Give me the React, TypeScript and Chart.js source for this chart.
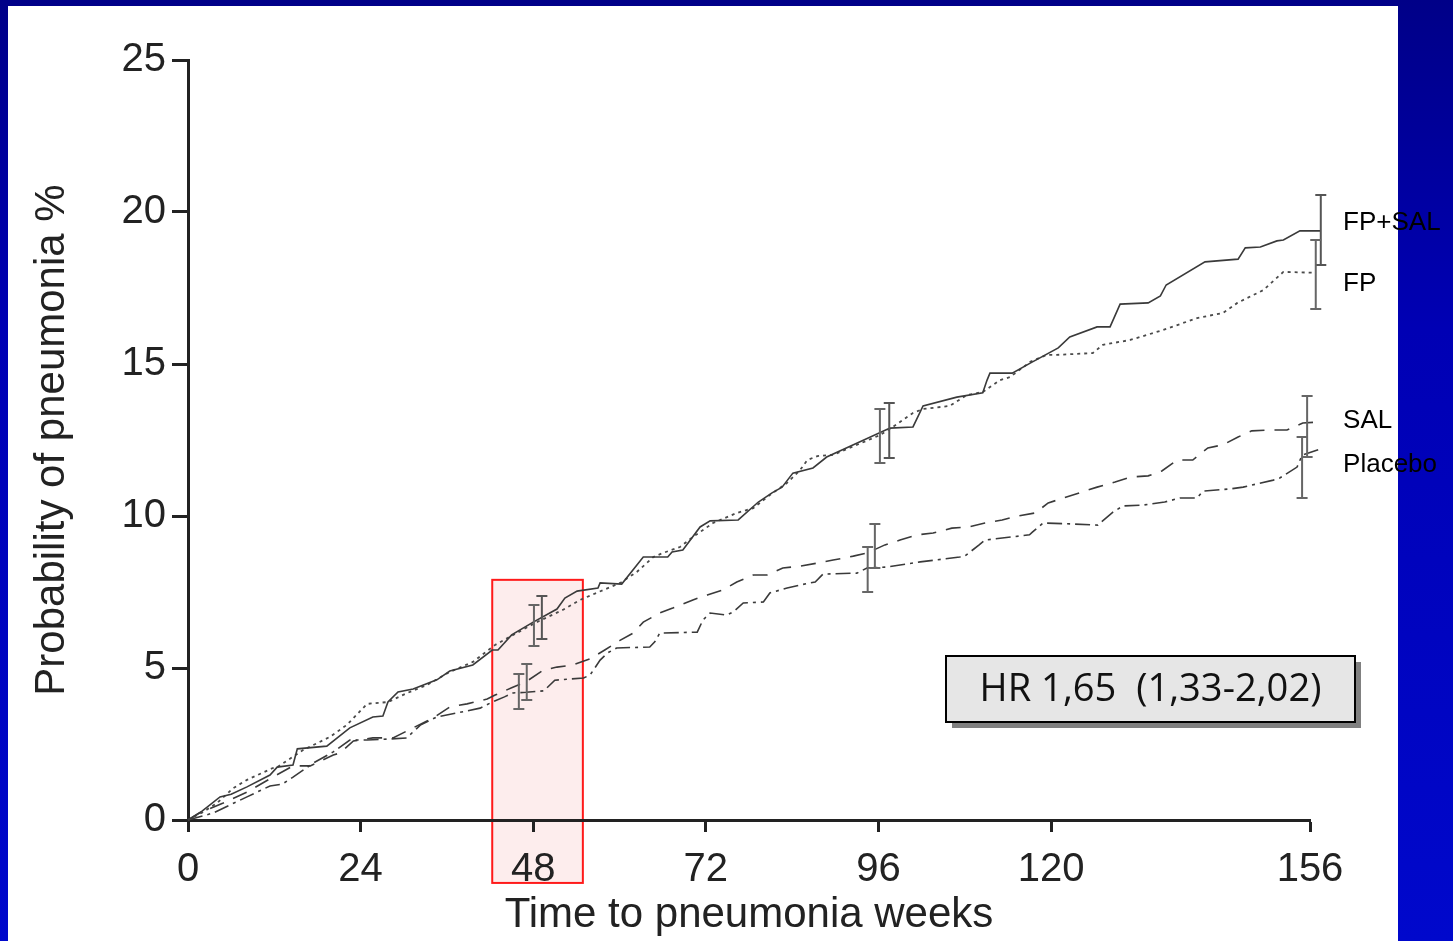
import React, { useEffect, useRef } from "react";
import { Chart, registerables } from "chart.js";

Chart.register(...registerables);

// ---------- data ----------
const xTickValues = [0, 24, 48, 72, 96, 120, 156];
const yTickStep = 5;

const seriesNames = ["FP+SAL", "FP", "SAL", "Placebo"];

const fpSalWeeks = [0, 2, 4.45, 6, 8.2, 11.4, 12.4, 14.6, 15.2, 19.3, 22.5, 25.7, 27.1, 27.8, 29.2, 31.3, 34.6, 36.4, 39.6, 42.3, 43.1, 45.0, 48.0, 51.3, 52.4, 54.1, 57.0, 57.3, 60.3, 63.3, 66.7, 67.3, 68.8, 71.2, 72.6, 76.5, 79.3, 81.2, 82.6, 84.1, 86.9, 88.8, 97.6, 100.8, 102.2, 106.9, 110.5, 111.1, 111.5, 114.6, 117.1, 121.0, 122.6, 126.4, 128.2, 129.6, 133.5, 135.2, 136.0, 141.4, 146.0, 147.0, 149.1, 151.4, 152.3, 154.6, 157.4];
const fpSalProb = [0, 0.3, 0.76, 0.85, 1.09, 1.48, 1.74, 1.81, 2.34, 2.43, 3.03, 3.39, 3.42, 3.88, 4.21, 4.31, 4.61, 4.9, 5.1, 5.59, 5.59, 6.09, 6.51, 6.94, 7.3, 7.53, 7.63, 7.8, 7.76, 8.65, 8.65, 8.82, 8.88, 9.64, 9.84, 9.87, 10.46, 10.76, 10.95, 11.41, 11.58, 11.94, 12.89, 12.93, 13.62, 13.91, 14.05, 14.47, 14.7, 14.7, 15.03, 15.53, 15.89, 16.22, 16.22, 16.97, 17.01, 17.24, 17.6, 18.36, 18.45, 18.82, 18.85, 19.05, 19.08, 19.38, 19.38];

const fpWeeks = [0, 2, 4, 6.3, 8.2, 11.8, 12.4, 16.0, 19.7, 22.1, 24.9, 27.8, 30.5, 33.2, 36.4, 39.6, 42.7, 45.7, 48.5, 52.1, 54.5, 60.1, 62.4, 64.7, 66.0, 68.4, 70.2, 73.0, 76.3, 78.6, 80.9, 83.3, 85.1, 86.1, 87.5, 89.7, 96.2, 98.0, 100.8, 102.2, 105.9, 108.3, 110.5, 112.9, 114.3, 117.1, 119.4, 120.8, 125.8, 127.2, 131.0, 135.6, 140.3, 143.9, 145.9, 149.5, 152.3, 156.8];
const fpProb = [0, 0.25, 0.55, 1.05, 1.32, 1.71, 1.74, 2.3, 2.73, 3.13, 3.82, 3.88, 4.18, 4.44, 4.87, 5.2, 5.76, 6.15, 6.51, 6.91, 7.24, 7.8, 8.16, 8.65, 8.78, 8.98, 9.31, 9.77, 10.1, 10.26, 10.69, 11.09, 11.51, 11.84, 11.97, 12.01, 12.66, 12.93, 13.39, 13.52, 13.62, 13.98, 14.08, 14.47, 14.57, 15.07, 15.3, 15.3, 15.36, 15.63, 15.79, 16.12, 16.51, 16.68, 17.01, 17.43, 18.03, 18.0];

const salWeeks = [0, 1.6, 4.9, 8.2, 11.8, 14.6, 17, 20.2, 21.1, 23, 25.7, 28.5, 31.3, 34.1, 36.4, 38.8, 41.6, 42.7, 45, 47, 49.4, 51.3, 53.5, 55.9, 58, 60, 61.9, 63.3, 65.6, 67.4, 70.2, 72.2, 74.4, 76.3, 78.6, 80.5, 82.7, 85.1, 87.5, 89.7, 92.5, 94.4, 96.9, 99, 101.4, 103.6, 106.2, 108.5, 110.8, 113.2, 115.4, 117.8, 119.6, 121.7, 124.3, 126.4, 128.9, 131, 133.5, 135.4, 137.5, 139.7, 141.8, 143.9, 146, 147.9, 150.4, 152.8, 155, 157.1];
const salProb = [0, 0.23, 0.56, 0.92, 1.41, 1.78, 1.78, 2.14, 2.2, 2.6, 2.7, 2.7, 3.03, 3.36, 3.72, 3.82, 3.98, 4.11, 4.35, 4.55, 4.93, 5.03, 5.1, 5.3, 5.6, 5.9, 6.15, 6.51, 6.81, 6.97, 7.24, 7.4, 7.57, 7.83, 8.06, 8.06, 8.29, 8.35, 8.45, 8.55, 8.68, 8.78, 9.05, 9.21, 9.38, 9.44, 9.6, 9.64, 9.77, 9.87, 10.0, 10.1, 10.43, 10.59, 10.79, 10.95, 11.12, 11.28, 11.32, 11.48, 11.84, 11.84, 12.24, 12.34, 12.6, 12.8, 12.83, 12.83, 13.06, 13.09];

const placeboWeeks = [0, 3.5, 5.8, 8.2, 11.4, 13.1, 14.6, 17.4, 20.2, 22.5, 24.9, 27.7, 30.4, 32.3, 34.6, 37.4, 40.6, 42.3, 44, 45.2, 47, 49.5, 51, 55, 55.9, 57.3, 58.3, 59.6, 64.2, 64.9, 65.6, 70.8, 71.6, 72.6, 74.9, 75.8, 77.2, 80, 80.9, 83.3, 85.1, 87.2, 88.3, 93, 94.4, 97.2, 99, 101.8, 107.3, 108, 110, 110.8, 117, 117.4, 118.9, 122.6, 126.5, 128.6, 130, 132.8, 135.8, 137.9, 140.3, 141.1, 144.9, 146.7, 150.9, 151.8, 154.2, 154.9, 157.4];
const placeboProb = [0, 0.23, 0.49, 0.76, 1.12, 1.18, 1.41, 1.87, 2.24, 2.63, 2.63, 2.66, 2.7, 3.12, 3.39, 3.52, 3.68, 3.88, 4.05, 4.18, 4.2, 4.25, 4.6, 4.67, 4.77, 5.26, 5.49, 5.66, 5.69, 5.86, 6.15, 6.18, 6.58, 6.81, 6.74, 6.84, 7.14, 7.17, 7.47, 7.63, 7.73, 7.83, 8.09, 8.12, 8.29, 8.32, 8.39, 8.49, 8.65, 8.68, 9.05, 9.21, 9.38, 9.47, 9.77, 9.74, 9.7, 10.13, 10.33, 10.36, 10.46, 10.59, 10.59, 10.82, 10.89, 10.95, 11.18, 11.25, 11.61, 12.0, 12.2];

// error bars (weeks, lower, upper)
const fpSalErrWeeks = [49.2, 97.5, 157.5];
const fpSalErrLow = [5.95, 11.91, 18.26];
const fpSalErrHigh = [7.37, 13.72, 20.56];
const fpErrWeeks = [48.1, 96.2, 156.8];
const fpErrLow = [5.72, 11.74, 16.81];
const fpErrHigh = [7.07, 13.52, 19.08];
const salErrWeeks = [47.1, 95.5, 155.6];
const salErrLow = [3.95, 8.29, 11.94];
const salErrHigh = [5.13, 9.74, 13.95];
const placeboErrWeeks = [46.0, 94.5, 154.9];
const placeboErrLow = [3.65, 7.5, 10.59];
const placeboErrHigh = [4.8, 8.98, 12.6];

// end-of-line series labels (week, probability)
const labelWeek = 160.6;
const labelProb = [19.64, 17.63, 13.13, 11.68];

// highlighted region (weeks / probability)
const highlightWeeks = [42.3, 54.9];
const highlightProb = [7.9, -2.07];

const hrText = "HR 1,65  (1,33-2,02)";

const FONT = "'Liberation Sans', Arial, sans-serif";

export default function App() {
  const ref = useRef<HTMLCanvasElement>(null);

  useEffect(() => {
    if (!ref.current) return;
    const mk = (w: number[], p: number[]) => w.map((x, i) => ({ x, y: p[i] }));

    const errSets = [
      { w: fpSalErrWeeks, lo: fpSalErrLow, hi: fpSalErrHigh, c: "#555" },
      { w: fpErrWeeks, lo: fpErrLow, hi: fpErrHigh, c: "#666" },
      { w: salErrWeeks, lo: salErrLow, hi: salErrHigh, c: "#666" },
      { w: placeboErrWeeks, lo: placeboErrLow, hi: placeboErrHigh, c: "#666" },
    ];

    const highlightPlugin = {
      id: "highlight",
      beforeDraw(chart: any) {
        const { ctx, scales } = chart;
        const x0 = scales.x.getPixelForValue(highlightWeeks[0]);
        const x1 = scales.x.getPixelForValue(highlightWeeks[1]);
        const y0 = scales.y.getPixelForValue(highlightProb[0]);
        const y1 = scales.y.getPixelForValue(highlightProb[1]);
        ctx.save();
        ctx.fillStyle = "#fdeded";
        ctx.fillRect(x0, y0, x1 - x0, y1 - y0);
        ctx.strokeStyle = "#ff1a1a";
        ctx.lineWidth = 2;
        ctx.strokeRect(x0, y0, x1 - x0, y1 - y0);
        ctx.restore();
      },
    };

    const errorBarPlugin = {
      id: "errorBars",
      afterDatasetsDraw(chart: any) {
        const { ctx, scales } = chart;
        ctx.save();
        ctx.lineWidth = 2;
        errSets.forEach((s) => {
          ctx.strokeStyle = s.c;
          s.w.forEach((w, i) => {
            const px = scales.x.getPixelForValue(w);
            const top = scales.y.getPixelForValue(s.hi[i]);
            const bot = scales.y.getPixelForValue(s.lo[i]);
            ctx.beginPath();
            ctx.moveTo(px, top);
            ctx.lineTo(px, bot);
            ctx.moveTo(px - 5.5, top);
            ctx.lineTo(px + 5.5, top);
            ctx.moveTo(px - 5.5, bot);
            ctx.lineTo(px + 5.5, bot);
            ctx.stroke();
          });
        });
        ctx.restore();
      },
    };

    const annotPlugin = {
      id: "annot",
      afterDraw(chart: any) {
        const { ctx, scales } = chart;
        ctx.save();
        // series labels
        ctx.fillStyle = "#000";
        ctx.font = `26px ${FONT}`;
        ctx.textAlign = "left";
        ctx.textBaseline = "middle";
        seriesNames.forEach((n, i) => {
          ctx.fillText(n, scales.x.getPixelForValue(labelWeek), scales.y.getPixelForValue(labelProb[i]));
        });
        // HR box
        const bx = 946, by = 656, bw = 409, bh = 66;
        ctx.fillStyle = "#808080";
        ctx.fillRect(bx + 6, by + 6, bw, bh);
        ctx.fillStyle = "#e6e6e6";
        ctx.fillRect(bx, by, bw, bh);
        ctx.strokeStyle = "#000";
        ctx.lineWidth = 2;
        ctx.strokeRect(bx, by, bw, bh);
        ctx.font = `100px 'Open Sans', 'DejaVu Sans', sans-serif`;
        const m = ctx.measureText(hrText).width;
        const fs = (100 * 342) / m;
        ctx.font = `${fs}px 'Open Sans', 'DejaVu Sans', sans-serif`;
        ctx.fillStyle = "#111";
        ctx.textAlign = "center";
        ctx.textBaseline = "middle";
        ctx.fillText(hrText, bx + bw / 2, by + bh / 2 + 1);
        ctx.restore();
      },
    };

    const lineColor = "#3a3a3a";
    const chart = new Chart(ref.current, {
      type: "line",
      data: {
        datasets: [
          { label: seriesNames[0], data: mk(fpSalWeeks, fpSalProb), borderColor: lineColor, borderWidth: 1.6, pointRadius: 0, tension: 0, clip: false as any },
          { label: seriesNames[1], data: mk(fpWeeks, fpProb), borderColor: "#4a4a4a", borderWidth: 1.8, borderDash: [3, 4], pointRadius: 0, tension: 0, clip: false as any },
          { label: seriesNames[2], data: mk(salWeeks, salProb), borderColor: lineColor, borderWidth: 1.6, borderDash: [15, 10], pointRadius: 0, tension: 0, clip: false as any },
          { label: seriesNames[3], data: mk(placeboWeeks, placeboProb), borderColor: lineColor, borderWidth: 1.6, borderDash: [15, 5, 3, 5], pointRadius: 0, tension: 0, clip: false as any },
        ],
      },
      options: {
        responsive: false,
        animation: false,
        devicePixelRatio: 1,
        layout: { padding: { top: 60, right: 143, left: 0, bottom: 0 } },
        plugins: { legend: { display: false }, tooltip: { enabled: false } },
        scales: {
          x: {
            type: "linear",
            min: 0,
            max: 156,
            afterBuildTicks: (scale: any) => {
              scale.ticks = xTickValues.map((v) => ({ value: v }));
            },
            afterFit: (scale: any) => {
              scale.height = 121;
            },
            grid: { drawOnChartArea: false, drawTicks: true, tickLength: 12, tickWidth: 3, tickColor: "#222" },
            border: { display: true, width: 3, color: "#222" },
            ticks: { font: { family: FONT, size: 40 }, color: "#222", padding: 14, maxRotation: 0, autoSkip: false },
            title: { display: true, text: "Time to pneumonia weeks", font: { family: FONT, size: 42 }, color: "#222", padding: { top: 0, bottom: 0 } },
          },
          y: {
            type: "linear",
            min: 0,
            max: 25,
            afterFit: (scale: any) => {
              scale.width = 188;
            },
            grid: { drawOnChartArea: false, drawTicks: true, tickLength: 16, tickWidth: 3, tickColor: "#222" },
            border: { display: true, width: 3, color: "#222" },
            ticks: { stepSize: yTickStep, font: { family: FONT, size: 40 }, color: "#222", padding: 6 },
            title: { display: true, text: "Probability of pneumonia %", font: { family: FONT, size: 42 }, color: "#222", padding: { top: 27, bottom: 0 } },
          },
        },
      },
      plugins: [highlightPlugin, errorBarPlugin, annotPlugin],
    } as any);
    return () => chart.destroy();
  }, []);

  return (
    <div
      style={{
        position: "fixed",
        left: 0,
        top: 0,
        width: 1453,
        height: 941,
        overflow: "hidden",
        background: "linear-gradient(180deg, #000088 0%, #0000b4 35%, #0008cc 100%)",
      }}
    >
      <div style={{ position: "absolute", left: 8, top: 6, width: 1390, height: 935, background: "#ffffff" }} />
      <canvas ref={ref} width={1453} height={941} style={{ position: "absolute", left: 0, top: 0, width: 1453, height: 941 }} />
    </div>
  );
}
